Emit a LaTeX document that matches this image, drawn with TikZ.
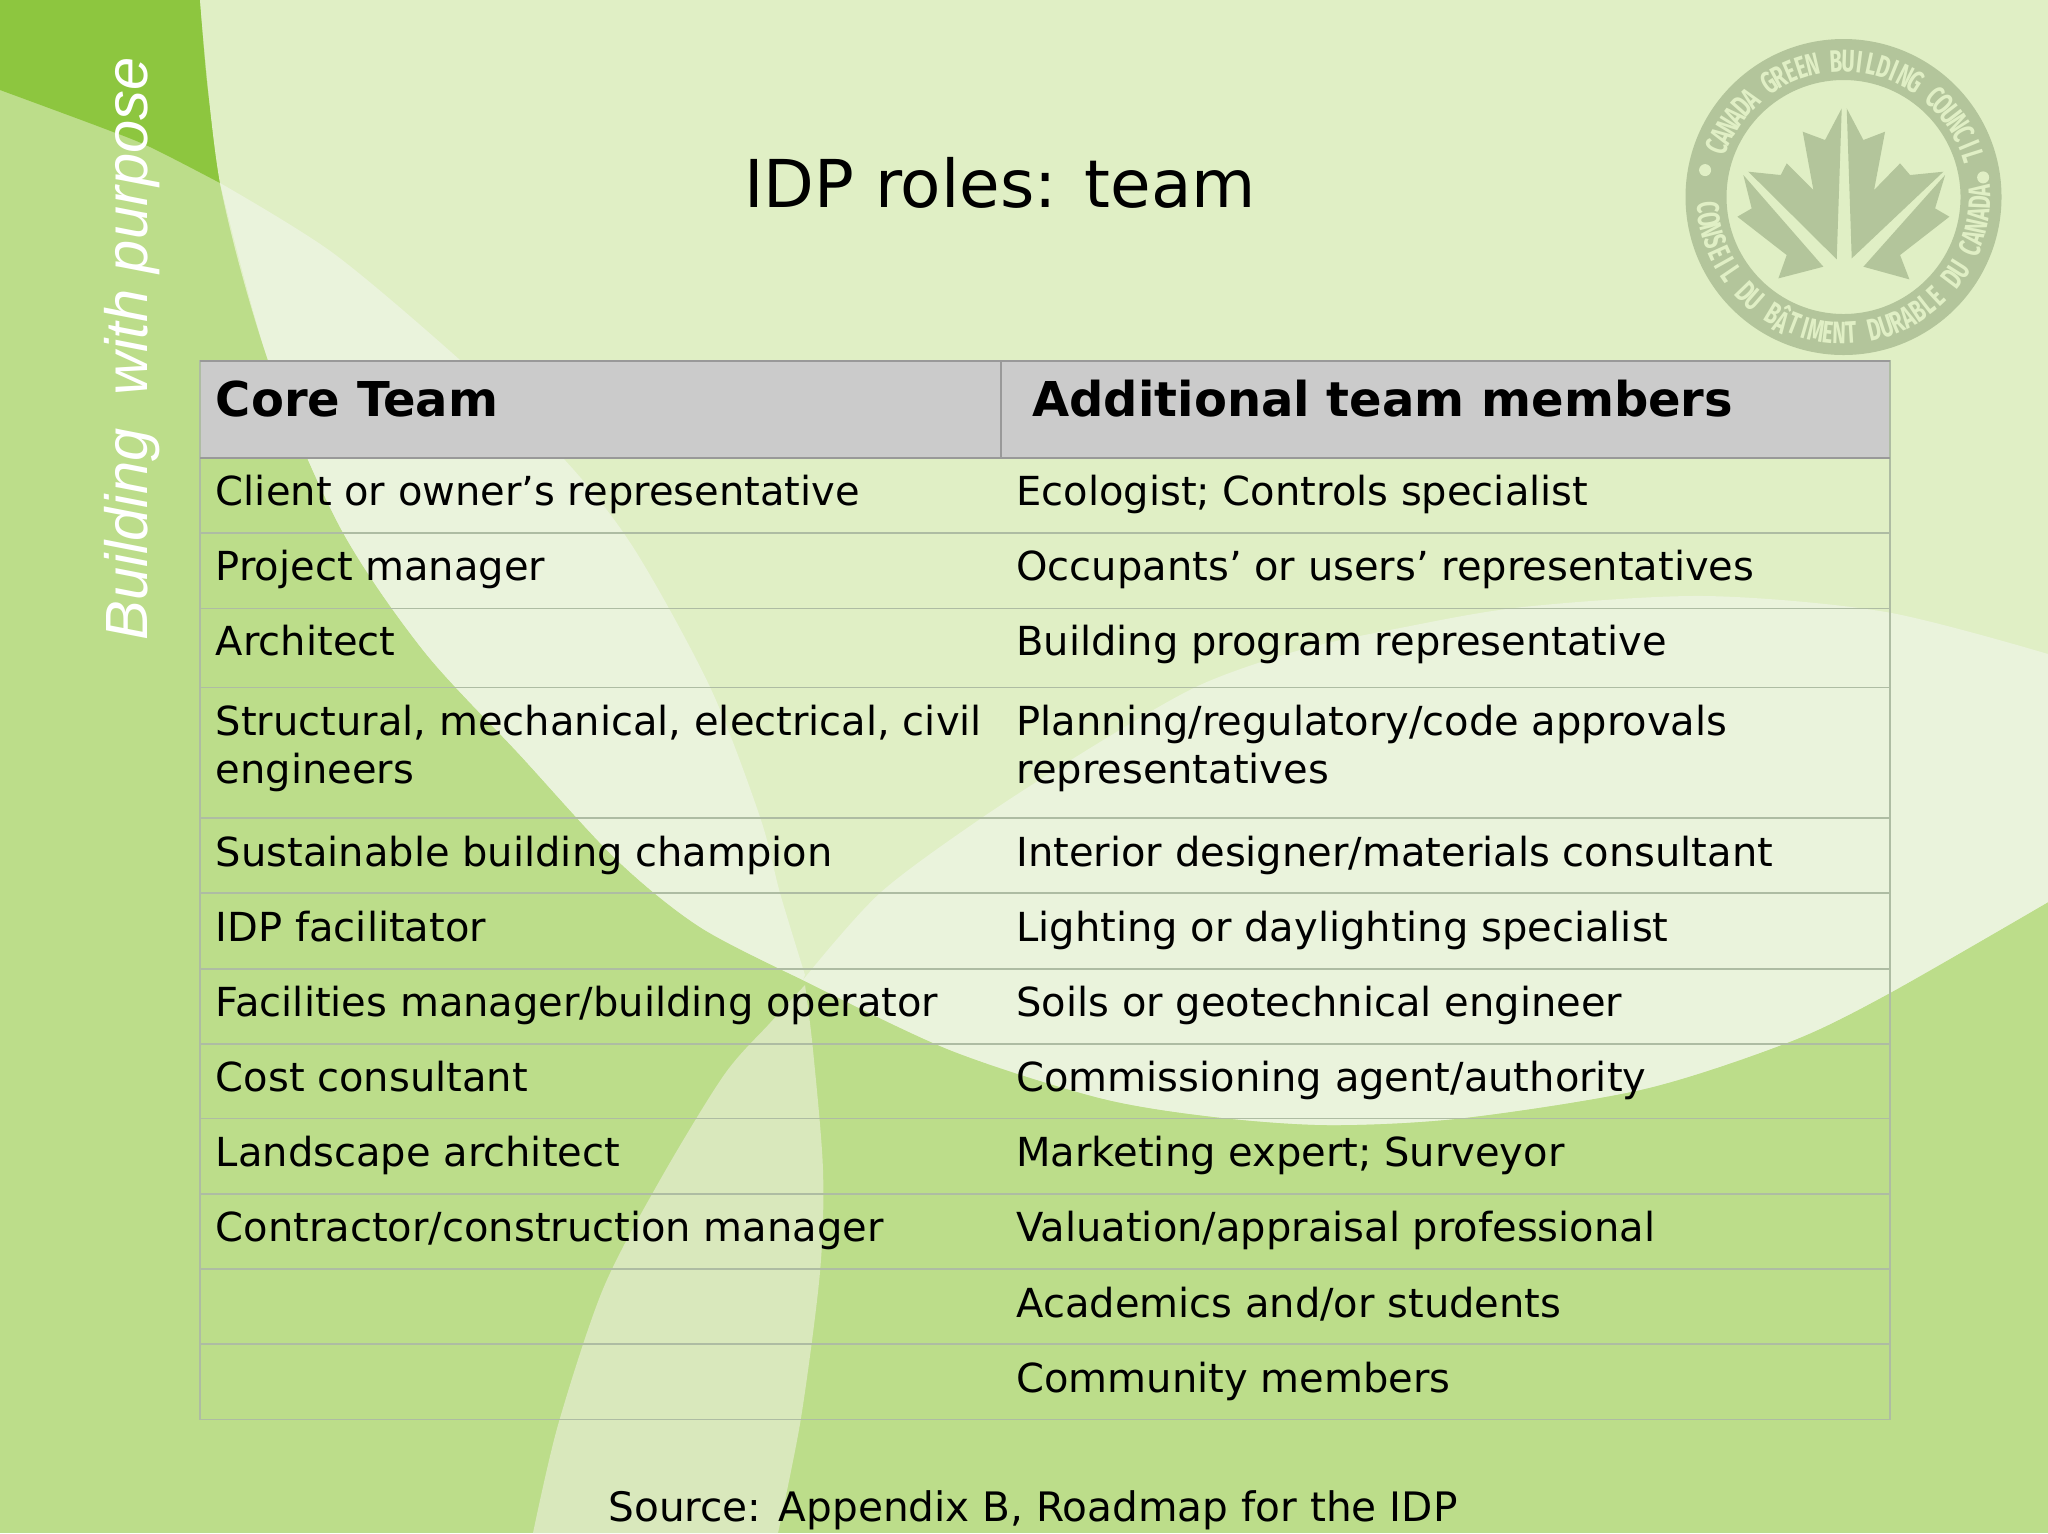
\documentclass[tikz,border=0pt]{standalone}
\usepackage{fontspec}
\setmainfont{DejaVu Sans}
\newfontfamily\sloganfont{Liberation Sans}
\newfontfamily\ringfont{Fira Sans}
\usetikzlibrary{positioning}
\definecolor{basegreen}{HTML}{BCDD8A}
\definecolor{darkgreen}{HTML}{8DC63F}
\definecolor{palegreen}{HTML}{E0EFC5}
\definecolor{bandgreen}{HTML}{EAF3DC}
\definecolor{petalgreen}{HTML}{D9E8BC}
\definecolor{sealgreen}{HTML}{B3C59B}
\definecolor{headgray}{HTML}{CBCBCB}
\definecolor{rulegray}{HTML}{AEBCA3}
\tikzset{
	cell/.style={anchor=base west,inner sep=0pt,font=\fontsize{20}{24}\selectfont,align=left},
	headcell/.style={anchor=base west,inner sep=0pt,font=\fontsize{24}{28}\selectfont\bfseries},
	sealletter/.style={inner sep=0pt,text=palegreen,font=\ringfont\bfseries\fontsize{15.5}{16}\selectfont}
}
\newcommand{\narrowch}[1]{\scalebox{0.66}[1]{#1}}
\begin{document}
\begin{tikzpicture}[x=0.5pt,y=-0.5pt]
	\useasboundingbox (0,0) rectangle (2048,1533);
	% background
	\fill[basegreen] (0,0) rectangle (2048,1533);
	\fill[darkgreen] (0,0) -- plot[smooth] coordinates {(200,0) (207,83) (220,183)} -- plot[smooth] coordinates {(220,183) (150,147) (100,127) (0,90)} -- cycle;
	\fill[palegreen] (2048,0) -- plot[smooth] coordinates {(200,0) (220,183) (268,360) (340,527) (423,650) (520,755) (617,860) (700,927) (803,980) (950,1050) (1100,1098) (1215,1117) (1330,1125) (1463,1118) (1644,1089) (1789,1042) (1886,995) (2048,902)} -- cycle;
	\fill[bandgreen] plot[smooth] coordinates {(220,183) (268,360) (340,527) (423,650) (520,755) (617,860) (700,927) (803,980)} -- plot[smooth] coordinates {(805,975) (780,893) (760,817) (710,687) (633,547) (563,458) (460,360) (333,253) (220,183)} -- cycle;
	\fill[bandgreen] plot[smooth] coordinates {(803,980) (950,1050) (1100,1098) (1215,1117) (1330,1125) (1463,1118) (1644,1089) (1789,1042) (1886,995) (2048,902)} -- plot[smooth] coordinates {(2048,654) (1886,612) (1705,596) (1523,607) (1400,628) (1300,650) (1200,685) (1100,742) (983,817) (880,893) (807,975)} -- cycle;
	\fill[petalgreen] plot[smooth] coordinates {(805,985) (770,1023) (724,1075) (660,1180) (603,1289) (558,1425) (533,1533)} -- plot[smooth] coordinates {(778,1533) (801,1418) (820,1272) (823,1170) (813,1050) (805,985)} -- cycle;
	% slogan
	\node[rotate=90,anchor=base west,inner sep=0pt,text=white,font=\sloganfont\itshape\fontsize{29.8}{30}\selectfont] (slogan) at (147,641) {Building\ \ with purpose};
	% seal
	\begin{scope}[shift={(1843.5,197)},x=0.5pt,y=0.5pt]
		\fill[sealgreen,even odd rule] (0,0) circle (158) (0,0) circle (117);
		\foreach \ch [count=\i] in {C,A,N,A,D,A,{},G,R,E,E,N,{},B,U,I,L,D,I,N,G,{},C,O,U,N,C,I,L}
			\node[sealletter,rotate={161-(\i-0.5)*146/29-90}] (top\i) at ({161-(\i-0.5)*146/29}:136) {\narrowch{\ch}};
		\foreach \ch [count=\i] in {C,O,N,S,E,I,L,{},D,U,{},B,Â,T,I,M,E,N,T,{},D,U,R,A,B,L,E,{},D,U,{},C,A,N,A,D,A}
			\node[sealletter,rotate={182+(\i-0.5)*178/36+90}] (low\i) at ({182+(\i-0.5)*178/36}:136) {\narrowch{\ch}};
		\fill[palegreen] (169:141) circle (6);
		\fill[palegreen] (8:141) circle (6);
	\end{scope}
	\begin{scope}[shift={(1650,20)},x=0.1667pt,y=-0.1667pt,sealgreen]
		\fill (575,265) -- (560,718) -- (295,455) -- (392,465) -- (410,430) -- (490,510) -- (458,335) -- (525,360) -- cycle;
		\fill (280,465) -- (520,740) -- (385,775) -- (410,705) -- (262,590) -- (305,565) -- cycle;
		\fill (590,265) -- (605,715) -- (880,455) -- (780,465) -- (750,430) -- (672,510) -- (705,335) -- (640,360) -- cycle;
		\fill (885,465) -- (640,740) -- (778,778) -- (750,705) -- (898,590) -- (855,565) -- cycle;
	\end{scope}
	% title
	\node[anchor=base,inner sep=0pt,font=\fontsize{33}{38}\selectfont] (title) at (1000,207) {IDP roles: team};
	% table
	\fill[headgray] (200,361) rectangle (1890,458);
	\draw[rulegray,line width=0.6pt] (200,361) rectangle (1890,1419.5);
	\draw[gray!80,line width=0.6pt] (200,361) -- (1890,361) (200,458) -- (1890,458) (1001,361) -- (1001,458);
	\foreach \y in {533,608.5,687.5,818,893,969,1044,1118.5,1194,1269,1344}
		\draw[rulegray,line width=0.6pt] (200,\y) -- (1890,\y);
	\node[headcell] (corehead) at (215.5,416) {Core Team};
	\node[headcell] (addhead) at (1032,416) {Additional team members};
	\node[cell] (core1) at (215.5,505.5) {Client or owner’s representative};
	\node[cell] (core2) at (215.5,580.5) {Project manager};
	\node[cell] (core3) at (215.5,655.5) {Architect};
	\node[cell] (core4) at (215.5,783) {Structural, mechanical, electrical, civil\\engineers};
	\node[cell] (core5) at (215.5,866) {Sustainable building champion};
	\node[cell] (core6) at (215.5,941) {IDP facilitator};
	\node[cell] (core7) at (215.5,1016) {Facilities manager/building operator};
	\node[cell] (core8) at (215.5,1091) {Cost consultant};
	\node[cell] (core9) at (215.5,1166.5) {Landscape architect};
	\node[cell] (core10) at (215.5,1241.5) {Contractor/construction manager};
	\node[cell] (add1) at (1016,505.5) {Ecologist; Controls specialist};
	\node[cell] (add2) at (1016,580.5) {Occupants’ or users’ representatives};
	\node[cell] (add3) at (1016,655.5) {Building program representative};
	\node[cell] (add4) at (1016,783) {Planning/regulatory/code approvals\\representatives};
	\node[cell] (add5) at (1016,866) {Interior designer/materials consultant};
	\node[cell] (add6) at (1016,941) {Lighting or daylighting specialist};
	\node[cell] (add7) at (1016,1016) {Soils or geotechnical engineer};
	\node[cell] (add8) at (1016,1091) {Commissioning agent/authority};
	\node[cell] (add9) at (1016,1166.5) {Marketing expert; Surveyor};
	\node[cell] (add10) at (1016,1241.5) {Valuation/appraisal professional};
	\node[cell] (add11) at (1016,1317) {Academics and/or students};
	\node[cell] (add12) at (1016,1392) {Community members};
	% source
	\node[cell,font=\fontsize{20.3}{24}\selectfont] (source) at (608,1521) {Source: Appendix B, Roadmap for the IDP};
\end{tikzpicture}
\end{document}
